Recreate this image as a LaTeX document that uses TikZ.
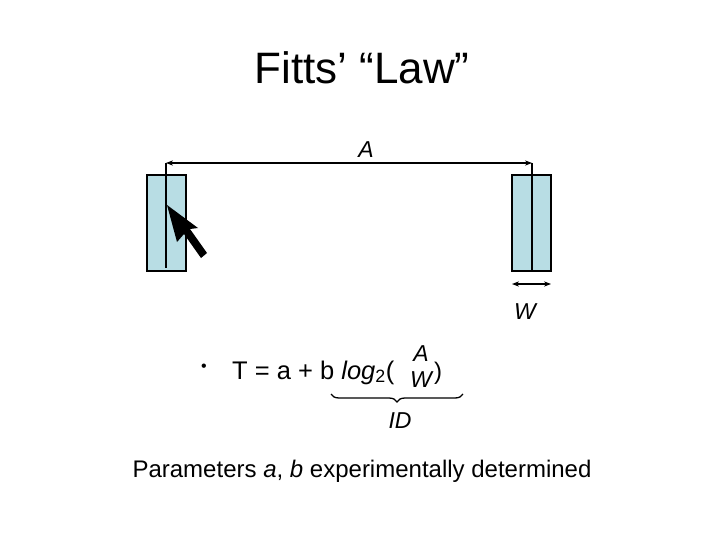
\documentclass[tikz,border=0pt]{standalone}
\usepackage{fontspec}
\setmainfont{Liberation Sans}
\usetikzlibrary{decorations.pathreplacing,arrows.meta}
\definecolor{targetfill}{RGB}{184,221,228}
\tikzset{
  target/.style={draw,line width=1.3pt,fill=targetfill,minimum width=39pt,minimum height=96pt,inner sep=0pt},
  label/.style={font=\fontsize{23}{26}\selectfont\itshape,inner sep=0pt},
  body/.style={font=\fontsize{24}{28}\selectfont,inner sep=0pt},
  dim/.style={line width=1.3pt,{Stealth[length=7pt]}-{Stealth[length=7pt]}}
}
\begin{document}
\begin{tikzpicture}[x=1pt,y=-1pt]
  \useasboundingbox (0,0) rectangle (720,540);
  \node[font=\fontsize{44}{50}\selectfont] (title) at (362,68) {Fitts’ “Law”};
  % targets
  \node[target] (t1) at (166.5,223) {};
  \node[target] (t2) at (531.5,223) {};
  \coordinate (c1top) at (166,163); \coordinate (c1bot) at (166,268);
  \coordinate (c2top) at (532,163); \coordinate (c2bot) at (532,271);
  \draw[line width=1.3pt] (c1top) -- (c1bot);
  \draw[line width=1.3pt] (c2top) -- (c2bot);
  \draw[dim] (c1top) -- (c2top);
  \node[label] (alab) at (366,150) {A};
  \coordinate (w1) at (512,284); \coordinate (w2) at (551,284);
  \draw[dim] (w1) -- (w2);
  \node[label] (wlab) at (525,312) {W};
  % cursor
  \fill (167,205) -- (177,242) -- (184,234) -- (201,258) -- (207,253) -- (190,229) -- (198,228) -- cycle;
  % formula
  \node[body,font=\fontsize{16}{16}\selectfont] (bullet) at (204,368) {•};
  \node[body,font=\fontsize{25.5}{28}\selectfont,anchor=base west] (eq) at (232,379) {T = a + b \textit{log}\textsubscript{2}(};
  \node[label] (num) at (421,354) {A};
  \node[label] (den) at (421,380) {W};
  \node[body,anchor=base west] (rp) at (434,379) {)};
  \draw[line width=1.3pt,decorate,decoration={brace,mirror,amplitude=8pt}] (331,394) coordinate (b1) -- (463,394) coordinate (b2);
  \node[label] (id) at (400,421) {ID};
  \node[body] (params) at (362,471) {Parameters \textit{a}, \textit{b} experimentally determined};
\end{tikzpicture}
\end{document}
